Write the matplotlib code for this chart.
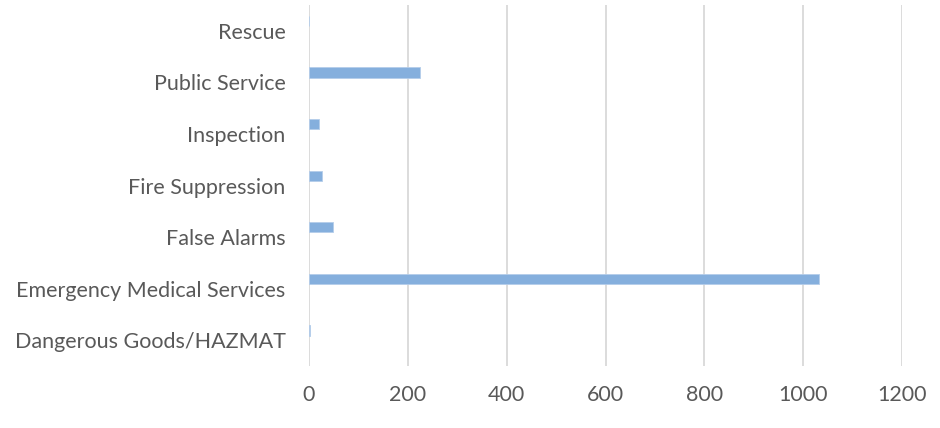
import numpy as np
import matplotlib.pyplot as plt

categories = ["Dangerous Goods/HAZMAT", "Emergency Medical Services", "False Alarms",
              "Fire Suppression", "Inspection", "Public Service", "Rescue"]
counts = [3, 1033, 48, 26, 21, 225, 0]
xticks = [0, 200, 400, 600, 800, 1000, 1200]

plt.rcParams['font.family'] = ['Lato', 'DejaVu Sans']

fig = plt.figure(figsize=(9.4, 4.28), dpi=100)
ax = fig.add_axes([309 / 940, 1 - 366 / 428, 593 / 940, 361 / 428])

y = np.arange(len(categories))
# bars sit a bit above the category centre (second, empty series in the original)
ax.barh(y + 0.19, counts, height=0.2, color='#85AFDD', edgecolor='#B4CDEA', linewidth=0.6, zorder=3)

ax.set_xlim(0, 1200)
ax.set_ylim(-0.5, len(categories) - 0.5)
ax.set_xticks(xticks)
ax.set_yticks(y)
ax.set_yticklabels(categories)
ax.grid(axis='x', color='#D9D9D9', linewidth=1.3, zorder=0)
for s in ax.spines.values():
    s.set_visible(False)
ax.tick_params(axis='both', length=0, colors='#595959', labelsize=15.5)
ax.tick_params(axis='x', pad=14)
ax.tick_params(axis='y', pad=17)

fig.savefig("out.png", dpi=100)
